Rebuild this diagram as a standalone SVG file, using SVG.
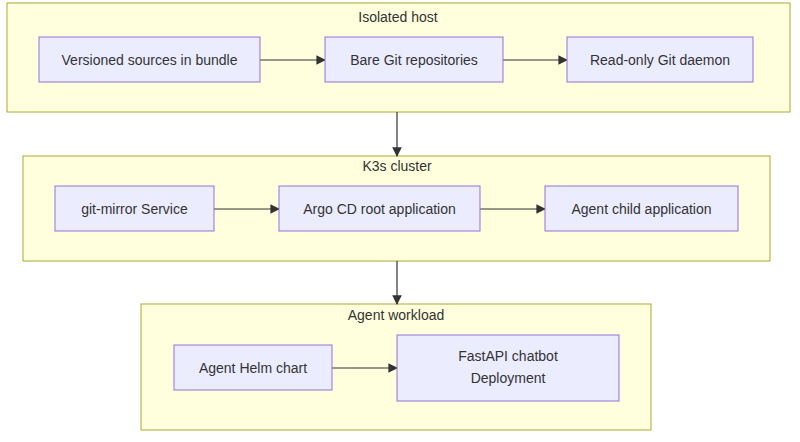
<svg xmlns="http://www.w3.org/2000/svg" width="800" height="442" viewBox="0 0 800 442">
<defs>
<marker id="arr" viewBox="0 0 10 10" refX="9" refY="5" markerWidth="8" markerHeight="8" orient="auto"><path d="M0,0 L10,5 L0,10 z" fill="#333"/></marker>
<style>
.cl{fill:#ffffde;stroke:#aaaa33;stroke-width:1}
.nd{fill:#ececff;stroke:#9370db;stroke-width:1}
text{font-family:"Liberation Sans","DejaVu Sans",sans-serif;font-size:14px;fill:#333;text-anchor:middle;dominant-baseline:central}
.ed{stroke:#333;stroke-width:1.2;fill:none;marker-end:url(#arr)}
</style>
</defs>
<rect width="800" height="442" fill="#fff"/>
<g id="cluster-isolated"><rect class="cl" x="7" y="3" width="783" height="109"/><text x="398" y="17">Isolated host</text></g>
<g id="cluster-k3s"><rect class="cl" x="23" y="156" width="747" height="105"/><text x="397" y="166">K3s cluster</text></g>
<g id="cluster-agent"><rect class="cl" x="141" y="304" width="510" height="126"/><text x="396" y="315">Agent workload</text></g>
<g id="edges">
<path class="ed" d="M260,60 L325,60"/>
<path class="ed" d="M503,60 L567,60"/>
<path class="ed" d="M397,112 L397,156"/>
<path class="ed" d="M214,209 L279,209"/>
<path class="ed" d="M480,209 L545,209"/>
<path class="ed" d="M397,261 L397,304"/>
<path class="ed" d="M332,368 L397,368"/>
</g>
<g id="n-sources"><rect class="nd" x="39" y="37" width="221" height="45"/><text x="149.5" y="59.5">Versioned sources in bundle</text></g>
<g id="n-bare"><rect class="nd" x="325" y="37" width="178" height="45"/><text x="414" y="59.5">Bare Git repositories</text></g>
<g id="n-daemon"><rect class="nd" x="567" y="37" width="186" height="45"/><text x="660" y="59.5">Read-only Git daemon</text></g>
<g id="n-mirror"><rect class="nd" x="55" y="186" width="159" height="45"/><text x="134.5" y="208.5">git-mirror Service</text></g>
<g id="n-argo"><rect class="nd" x="279" y="186" width="201" height="45"/><text x="379.5" y="208.5">Argo CD root application</text></g>
<g id="n-child"><rect class="nd" x="545" y="186" width="193" height="45"/><text x="641.5" y="208.5">Agent child application</text></g>
<g id="n-helm"><rect class="nd" x="174" y="345" width="158" height="45"/><text x="253" y="367.5">Agent Helm chart</text></g>
<g id="n-fastapi"><rect class="nd" x="397" y="335" width="222" height="66"/><text x="508" y="356">FastAPI chatbot</text><text x="508" y="378">Deployment</text></g>
</svg>
